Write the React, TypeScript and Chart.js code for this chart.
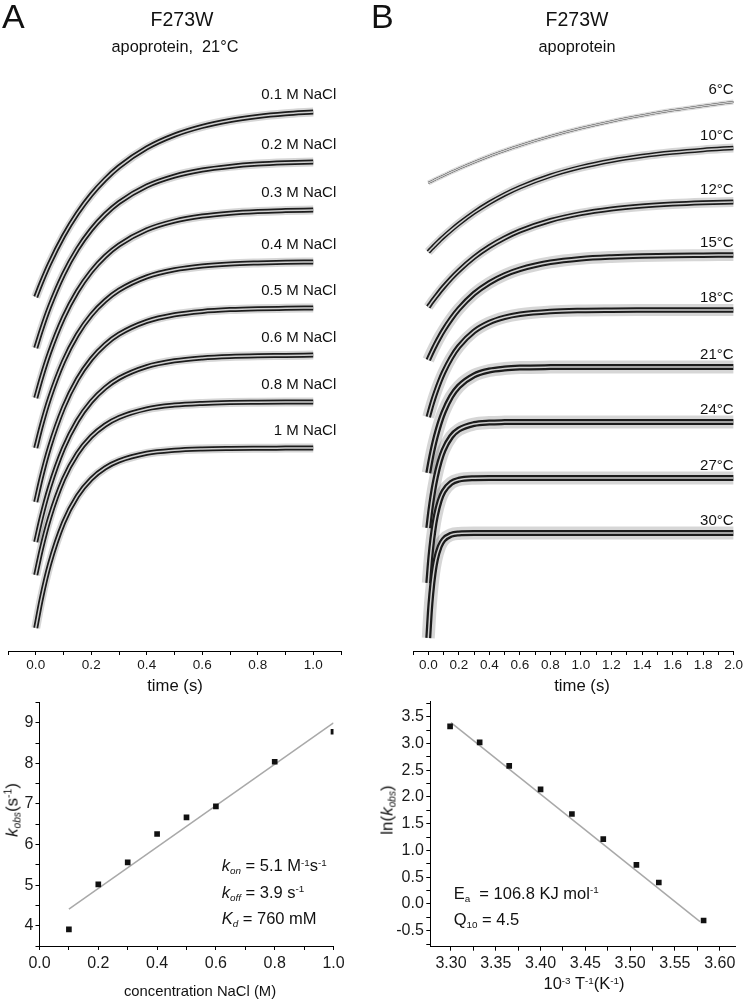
import React, { useEffect, useRef } from "react";
import { Chart, registerables } from "chart.js";

Chart.register(...registerables);

const PAGE_W = 745;
const PAGE_H = 1002;
const FONT = "'Liberation Sans', Arial, Helvetica, sans-serif";
Chart.defaults.font.family = FONT;
Chart.defaults.color = "#1a1a1a";

// ---------------- Panel A (top): stopped-flow traces vs NaCl, time in s ----------------
const TIME_A = [0, 0.02, 0.05, 0.1, 0.15, 0.2, 0.25, 0.3, 0.4, 0.5, 0.6, 0.7, 0.8, 0.9, 1.0];
const NACL_TRACE_LABELS = ["0.1 M NaCl", "0.2 M NaCl", "0.3 M NaCl", "0.4 M NaCl", "0.5 M NaCl", "0.6 M NaCl", "0.8 M NaCl", "1 M NaCl"];
// fluorescence (a.u., traces offset vertically)
const SIGNAL_NACL_01 = [3.54, 3.682, 3.875, 4.15, 4.376, 4.563, 4.716, 4.842, 5.031, 5.159, 5.246, 5.305, 5.345, 5.372, 5.39];
const SIGNAL_NACL_02 = [3.03, 3.208, 3.444, 3.767, 4.018, 4.214, 4.366, 4.485, 4.65, 4.749, 4.81, 4.846, 4.869, 4.882, 4.89];
const SIGNAL_NACL_03 = [2.53, 2.728, 2.987, 3.334, 3.596, 3.795, 3.946, 4.06, 4.212, 4.299, 4.349, 4.378, 4.395, 4.404, 4.41];
const SIGNAL_NACL_04 = [2.03, 2.249, 2.53, 2.896, 3.164, 3.36, 3.503, 3.608, 3.741, 3.812, 3.85, 3.871, 3.881, 3.887, 3.89];
const SIGNAL_NACL_05 = [1.49, 1.734, 2.041, 2.434, 2.717, 2.919, 3.064, 3.168, 3.296, 3.362, 3.396, 3.414, 3.423, 3.427, 3.43];
const SIGNAL_NACL_06 = [1.09, 1.333, 1.639, 2.027, 2.301, 2.494, 2.631, 2.728, 2.844, 2.902, 2.931, 2.946, 2.953, 2.956, 2.96];
const SIGNAL_NACL_08 = [0.76, 1.017, 1.333, 1.717, 1.973, 2.144, 2.259, 2.335, 2.421, 2.459, 2.476, 2.484, 2.487, 2.489, 2.49];
const SIGNAL_NACL_10 = [0.23, 0.521, 0.871, 1.283, 1.549, 1.72, 1.831, 1.901, 1.977, 2.008, 2.021, 2.026, 2.028, 2.029, 2.03];
const NACL_TRACES = [SIGNAL_NACL_01, SIGNAL_NACL_02, SIGNAL_NACL_03, SIGNAL_NACL_04, SIGNAL_NACL_05, SIGNAL_NACL_06, SIGNAL_NACL_08, SIGNAL_NACL_10];

// ---------------- Panel B (top): stopped-flow traces vs temperature ----------------
const TIME_B = [0, 0.01, 0.02, 0.035, 0.05, 0.075, 0.1, 0.15, 0.2, 0.3, 0.4, 0.5, 0.6, 0.8, 1.0, 1.2, 1.4, 1.6, 1.8, 2.0];
const TEMP_TRACE_LABELS = ["6°C", "10°C", "12°C", "15°C", "18°C", "21°C", "24°C", "27°C", "30°C"];
const SIGNAL_T06 = [4.68, 4.688, 4.695, 4.707, 4.718, 4.736, 4.754, 4.79, 4.824, 4.888, 4.948, 5.003, 5.055, 5.147, 5.227, 5.296, 5.355, 5.407, 5.451, 5.49];
const SIGNAL_T10 = [3.99, 4.006, 4.022, 4.046, 4.069, 4.106, 4.142, 4.209, 4.272, 4.385, 4.482, 4.566, 4.638, 4.753, 4.839, 4.903, 4.95, 4.985, 5.011, 5.03];
const SIGNAL_T12 = [3.44, 3.462, 3.484, 3.515, 3.545, 3.594, 3.64, 3.726, 3.803, 3.936, 4.043, 4.13, 4.201, 4.305, 4.374, 4.419, 4.449, 4.469, 4.482, 4.49];
const SIGNAL_T15 = [2.91, 2.944, 2.977, 3.025, 3.071, 3.142, 3.207, 3.322, 3.42, 3.573, 3.682, 3.761, 3.817, 3.887, 3.923, 3.941, 3.951, 3.956, 3.958, 3.96];
const SIGNAL_T18 = [2.34, 2.396, 2.449, 2.524, 2.592, 2.695, 2.785, 2.932, 3.044, 3.196, 3.285, 3.337, 3.367, 3.395, 3.405, 3.408, 3.409, 3.41, 3.41, 3.41];
const SIGNAL_T21 = [1.78, 1.866, 1.946, 2.053, 2.147, 2.28, 2.387, 2.544, 2.646, 2.757, 2.805, 2.825, 2.834, 2.839, 2.84, 2.84, 2.84, 2.84, 2.84, 2.84];
const SIGNAL_T24 = [1.23, 1.361, 1.476, 1.622, 1.742, 1.896, 2.007, 2.144, 2.214, 2.27, 2.285, 2.289, 2.29, 2.29, 2.29, 2.29, 2.29, 2.29, 2.29, 2.29];
const SIGNAL_T27 = [0.68, 0.875, 1.033, 1.218, 1.353, 1.504, 1.595, 1.681, 1.713, 1.728, 1.73, 1.73, 1.73, 1.73, 1.73, 1.73, 1.73, 1.73, 1.73, 1.73];
const SIGNAL_T30 = [0.13, 0.382, 0.573, 0.778, 0.913, 1.045, 1.112, 1.163, 1.176, 1.18, 1.18, 1.18, 1.18, 1.18, 1.18, 1.18, 1.18, 1.18, 1.18, 1.18];
const TEMP_TRACES = [SIGNAL_T06, SIGNAL_T10, SIGNAL_T12, SIGNAL_T15, SIGNAL_T18, SIGNAL_T21, SIGNAL_T24, SIGNAL_T27, SIGNAL_T30];

// ---------------- Bottom A: k_obs vs [NaCl] ----------------
const NACL_CONC = [0.1, 0.2, 0.3, 0.4, 0.5, 0.6, 0.8, 1.0];
const KOBS = [3.91, 5.02, 5.56, 6.26, 6.67, 6.94, 8.04, 8.78];
const KOBS_FIT_CONC = [0.1, 1.0];
const KOBS_FIT = [4.41, 9.0];

// ---------------- Bottom B: Arrhenius plot ----------------
const INV_TEMP = [3.299, 3.332, 3.365, 3.4, 3.435, 3.47, 3.507, 3.532, 3.582];
const LN_KOBS = [3.32, 3.02, 2.58, 2.14, 1.68, 1.21, 0.73, 0.4, -0.31];
const LN_FIT_INV_TEMP = [3.3, 3.578];
const LN_FIT = [3.39, -0.33];

// ---------------- styles (kept apart from data) ----------------
type TraceStyle = { halo: number; haloAlpha: number; core: number };
const NACL_STYLES: TraceStyle[] = NACL_TRACES.map(() => ({ halo: 9, haloAlpha: 0.16, core: 5 }));
const TEMP_STYLES: TraceStyle[] = [
  { halo: 5, haloAlpha: 0.14, core: 2 },
  { halo: 9, haloAlpha: 0.16, core: 4.5 },
  { halo: 10, haloAlpha: 0.16, core: 5 },
  { halo: 12, haloAlpha: 0.16, core: 5.5 },
  { halo: 12, haloAlpha: 0.16, core: 5.5 },
  { halo: 13, haloAlpha: 0.16, core: 6 },
  { halo: 13, haloAlpha: 0.16, core: 6 },
  { halo: 13, haloAlpha: 0.16, core: 6 },
  { halo: 13, haloAlpha: 0.16, core: 6 },
];

const gridStyle = { display: true, drawOnChartArea: false, drawTicks: true, tickLength: 4, color: "#000", lineWidth: 1 };
const borderStyle = { display: true, color: "#000", width: 1 };

function traceDatasets(time: number[], traces: number[][], labels: string[], styles: TraceStyle[]) {
  const out: any[] = [];
  traces.forEach((vals, i) => {
    const pts = time.map((t, j) => ({ x: t, y: vals[j] }));
    const s = styles[i];
    const common = { data: pts, pointRadius: 0, fill: false, cubicInterpolationMode: "monotone", borderCapStyle: "butt", borderJoinStyle: "round" };
    out.push({ ...common, borderColor: `rgba(0,0,0,${s.haloAlpha})`, borderWidth: s.halo, order: 3 });
    out.push({ ...common, borderColor: "#1c1c1c", borderWidth: s.core, order: 2 });
    out.push({ ...common, borderColor: "#cfcfcf", borderWidth: 1.5, order: 1, traceLabel: labels[i] });
  });
  return out;
}

function traceLabelPlugin(dx: number, dy: number, size: number) {
  return {
    id: "traceLabels",
    afterDatasetsDraw(chart: any) {
      const ctx = chart.ctx;
      ctx.save();
      ctx.font = `${size}px ${FONT}`;
      ctx.fillStyle = "#111";
      ctx.textAlign = "right";
      ctx.textBaseline = "middle";
      chart.data.datasets.forEach((ds: any, i: number) => {
        if (!ds.traceLabel) return;
        const meta = chart.getDatasetMeta(i);
        const last = meta.data[meta.data.length - 1];
        ctx.fillText(ds.traceLabel, last.x + dx, last.y + dy);
      });
      ctx.restore();
    },
  };
}

const labelTenths = (v: number) => {
  const n = Math.round(v * 10);
  return n % 2 === 0 && n >= 0 ? (n / 10).toFixed(1) : "";
};

function tracePanel(time: number[], traces: number[][], labels: string[], styles: TraceStyle[], xMin: number, xMax: number, padding: any, dx: number, dy: number) {
  return {
    type: "line",
    data: { datasets: traceDatasets(time, traces, labels, styles) },
    options: {
      animation: false,
      responsive: false,
      events: [],
      layout: { padding },
      plugins: { legend: { display: false }, tooltip: { enabled: false } },
      scales: {
        x: {
          type: "linear",
          min: xMin,
          max: xMax,
          afterFit: (s: any) => { s.height = 30; },
          grid: gridStyle,
          border: borderStyle,
          ticks: { stepSize: 0.1, autoSkip: false, maxRotation: 0, minRotation: 0, padding: 2, color: "#1a1a1a", font: { size: 13.5 }, callback: labelTenths },
        },
        y: { display: false, min: 0, max: 5.91 },
      },
    },
    plugins: [traceLabelPlugin(dx, dy, 15)],
  };
}

const buildTopA = () =>
  tracePanel(TIME_A, NACL_TRACES, NACL_TRACE_LABELS, NACL_STYLES, -0.1, 1.1, { left: 8, right: 404, top: 60, bottom: 321 }, 23, -17);
const buildTopB = () =>
  tracePanel(TIME_B, TEMP_TRACES, TEMP_TRACE_LABELS, TEMP_STYLES, -0.1, 2.0, { left: 413, right: 10, top: 60, bottom: 321 }, 0, -12);

function scatterPanel(xs: number[], ys: number[], fitX: number[], fitY: number[], xOpts: any, yOpts: any, padding: any, yWidth: number) {
  return {
    type: "scatter",
    data: {
      datasets: [
        {
          data: fitX.map((x, i) => ({ x, y: fitY[i] })),
          showLine: true,
          borderColor: "#a9a9a9",
          borderWidth: 1.5,
          pointRadius: 0,
          order: 2,
        },
        {
          data: xs.map((x, i) => ({ x, y: ys[i] })),
          showLine: false,
          pointStyle: "rect",
          pointRadius: 4,
          backgroundColor: "#111",
          borderColor: "#111",
          borderWidth: 0,
          order: 1,
        },
      ],
    },
    options: {
      animation: false,
      responsive: false,
      events: [],
      layout: { padding },
      plugins: { legend: { display: false }, tooltip: { enabled: false } },
      scales: {
        x: {
          type: "linear",
          ...xOpts,
          afterFit: (s: any) => { s.height = 30; },
          grid: gridStyle,
          border: borderStyle,
          ticks: { ...xOpts.ticks, autoSkip: false, maxRotation: 0, minRotation: 0, color: "#1a1a1a", font: { size: 16 } },
        },
        y: {
          type: "linear",
          ...yOpts,
          afterFit: (s: any) => { s.width = yWidth; },
          grid: gridStyle,
          border: borderStyle,
          ticks: { ...yOpts.ticks, autoSkip: false, color: "#1a1a1a", font: { size: 16 } },
        },
      },
    },
  };
}

const buildBottomA = () =>
  scatterPanel(
    NACL_CONC, KOBS, KOBS_FIT_CONC, KOBS_FIT,
    { min: 0, max: 1.0, ticks: { stepSize: 0.1, padding: 3.7, callback: labelTenths } },
    {
      min: 3.5, max: 9.5,
      ticks: {
        stepSize: 0.5, padding: 2,
        callback: (v: number) => { const n = Math.round(v * 2); return n % 2 === 0 ? String(n / 2) : ""; },
      },
    },
    { left: 0, right: 411.5, top: 702.5, bottom: 26 },
    39.5
  );

const buildBottomB = () =>
  scatterPanel(
    INV_TEMP, LN_KOBS, LN_FIT_INV_TEMP, LN_FIT,
    {
      min: 3.2769, max: 3.6174,
      ticks: {
        stepSize: 0.025, padding: 3, includeBounds: false,
        callback: (v: number) => { const n = Math.round(v * 1000); return n % 50 === 0 ? (n / 1000).toFixed(2) : ""; },
      },
    },
    {
      min: -0.8, max: 3.78,
      ticks: {
        stepSize: 0.25, padding: 2.5, includeBounds: false,
        callback: (v: number) => { const n = Math.round(v * 100); return n % 50 === 0 ? (n / 100).toFixed(1) : ""; },
      },
    },
    { left: 0, right: 9.7, top: 701.7, bottom: 25.3 },
    430.3
  );

function ChartLayer({ build }: { build: () => any }) {
  const ref = useRef<HTMLCanvasElement | null>(null);
  useEffect(() => {
    if (!ref.current) return;
    const chart = new Chart(ref.current, build());
    return () => chart.destroy();
  }, [build]);
  return (
    <canvas
      ref={ref}
      width={PAGE_W}
      height={PAGE_H}
      style={{ position: "absolute", left: 0, top: 0, width: PAGE_W, height: PAGE_H, pointerEvents: "none" }}
    />
  );
}

const Sub = ({ children }: { children: React.ReactNode }) => (
  <span style={{ fontSize: "0.6em", position: "relative", top: "0.3em" }}>{children}</span>
);
const Sup = ({ children }: { children: React.ReactNode }) => (
  <span style={{ fontSize: "0.6em", position: "relative", top: "-0.55em" }}>{children}</span>
);

function Text({ x, y, size, children, anchor = "center", rotate = false }: { x: number; y: number; size: number; children: React.ReactNode; anchor?: "center" | "left"; rotate?: boolean }) {
  const tx = anchor === "center" ? "-50%" : "0";
  return (
    <div
      style={{
        position: "absolute",
        left: x,
        top: y,
        fontFamily: FONT,
        fontSize: size,
        lineHeight: 1,
        whiteSpace: "pre",
        color: "#111",
        transform: `translate(${tx}, -50%)${rotate ? " rotate(-90deg)" : ""}`,
        transformOrigin: anchor === "center" ? "center center" : "left center",
      }}
    >
      {children}
    </div>
  );
}

export default function App() {
  return (
    <div style={{ position: "absolute", left: 0, top: 0, width: PAGE_W, height: PAGE_H, background: "#fff", overflow: "hidden" }}>
      <ChartLayer build={buildTopA} />
      <ChartLayer build={buildTopB} />
      <ChartLayer build={buildBottomA} />
      <ChartLayer build={buildBottomB} />

      {/* panel letters and titles */}
      <div style={{ position: "absolute", left: 2, top: -1.5, fontFamily: FONT, fontSize: 34, lineHeight: 1, color: "#111" }}>A</div>
      <div style={{ position: "absolute", left: 371, top: -1.5, fontFamily: FONT, fontSize: 34, lineHeight: 1, color: "#111" }}>B</div>
      <Text x={182} y={20} size={19.5}>F273W</Text>
      <Text x={175} y={46} size={16.3}>{"apoprotein,  21°C"}</Text>
      <Text x={577} y={20} size={19.5}>F273W</Text>
      <Text x={577} y={46} size={16.3}>apoprotein</Text>

      {/* top axis titles */}
      <Text x={175} y={686} size={16.7}>time (s)</Text>
      <Text x={582} y={686} size={16.7}>time (s)</Text>

      {/* bottom A */}
      <Text x={12} y={810} size={17} rotate>
        <i>k</i><Sub><i>obs</i></Sub>(s<Sup>-1</Sup>)
      </Text>
      <Text x={200} y={991} size={14.8}>concentration NaCl (M)</Text>
      <Text x={221.7} y={865} size={16.5} anchor="left">
        <i>k</i><Sub><i>on</i></Sub> = 5.1 M<Sup>-1</Sup>s<Sup>-1</Sup>
      </Text>
      <Text x={221.7} y={891.7} size={16.5} anchor="left">
        <i>k</i><Sub><i>off</i></Sub> = 3.9 s<Sup>-1</Sup>
      </Text>
      <Text x={221.7} y={918.3} size={16.5} anchor="left">
        <i>K</i><Sub><i>d</i></Sub> = 760 mM
      </Text>

      {/* bottom B */}
      <Text x={387} y={810} size={17} rotate>
        ln(<i>k</i><Sub><i>obs</i></Sub>)
      </Text>
      <Text x={584} y={983} size={16.5}>
        10<Sup>-3</Sup> T<Sup>-1</Sup>(K<Sup>-1</Sup>)
      </Text>
      <Text x={453.7} y={892.7} size={16.5} anchor="left">
        E<Sub>a</Sub>{"  = 106.8 KJ mol"}<Sup>-1</Sup>
      </Text>
      <Text x={453.7} y={919.3} size={16.5} anchor="left">
        Q<Sub>10</Sub> = 4.5
      </Text>
    </div>
  );
}
